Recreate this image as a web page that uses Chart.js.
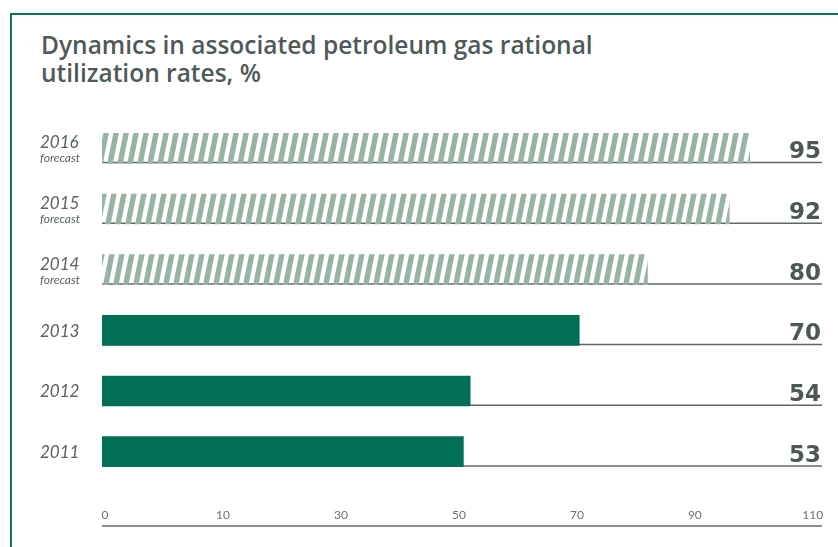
<!DOCTYPE html>
<html>
<head>
<meta charset="utf-8">
<script src="https://cdn.jsdelivr.net/npm/chart.js@4/dist/chart.umd.min.js"></script>
<style>
  html, body { margin: 0; padding: 0; background: #ffffff; }
  #wrap { position: relative; width: 838px; height: 547px; overflow: hidden; background: #fff; }
  #frame { position: absolute; left: 10px; top: 13px; right: -10px; bottom: -10px;
           border-top: 2.5px solid #0d7659; border-left: 2.5px solid #0d7659; }
  #title { position: absolute; left: 41px; top: 31px; font-family: "Open Sans", Lato, sans-serif;
           font-weight: 600; font-size: 24.5px; line-height: 28px; color: #4f5a58; white-space: nowrap; }
  canvas { position: absolute; left: 0; top: 0; }
</style>
</head>
<body>
<div id="wrap">
  <div id="frame"></div>
  <div id="title">Dynamics in associated petroleum gas rational<br>utilization rates, %</div>
  <canvas id="c" width="838" height="547"></canvas>
</div>
<script>
// ---- data ----
const categories = ['2016', '2015', '2014', '2013', '2012', '2011'];
const subLabels = ['forecast', 'forecast', 'forecast', '', '', ''];
const values = [95, 92, 80, 70, 54, 53];
const isForecast = [true, true, true, false, false, false];
const tickLabels = ['0', '10', '30', '50', '70', '90', '110'];

// ---- styles ----
const GREEN = '#006f55';
const HATCH = '#98b2a4';
const TEXT = '#4d5856';

function makeHatch() {
  const w = 10, h = 50, sw = 5.5;
  const c = document.createElement('canvas');
  c.width = w; c.height = h;
  const g = c.getContext('2d');
  g.fillStyle = HATCH;
  for (let k = -2; k <= 1; k++) {
    const x0 = k * w;
    g.beginPath();
    g.moveTo(x0, h);
    g.lineTo(x0 + sw, h);
    g.lineTo(x0 + sw + w, 0);
    g.lineTo(x0 + w, 0);
    g.closePath();
    g.fill();
  }
  return document.getElementById('c').getContext('2d').createPattern(c, 'repeat');
}
const hatch = makeHatch();

const decor = {
  id: 'decor',
  beforeDatasetsDraw(chart) {
    const ctx = chart.ctx;
    const meta = chart.getDatasetMeta(0);
    const xs = chart.scales.x;
    const right = chart.chartArea.right;
    ctx.save();
    meta.data.forEach((bar) => {
      const bottom = bar.y + bar.height / 2;
      ctx.strokeStyle = '#5f6866';
      ctx.lineWidth = 1.5;
      ctx.beginPath();
      ctx.moveTo(xs.getPixelForValue(0), bottom - 0.75);
      ctx.lineTo(right, bottom - 0.75);
      ctx.stroke();
    });
    // axis line
    const axisY = chart.chartArea.bottom + 44;
    ctx.strokeStyle = '#5f6866';
    ctx.lineWidth = 1.5;
    ctx.beginPath();
    ctx.moveTo(xs.getPixelForValue(0), axisY);
    ctx.lineTo(right, axisY);
    ctx.stroke();
    ctx.restore();
  },
  afterDatasetsDraw(chart) {
    const ctx = chart.ctx;
    const meta = chart.getDatasetMeta(0);
    const right = chart.chartArea.right;
    ctx.save();
    meta.data.forEach((bar, i) => {
      const bottom = bar.y + bar.height / 2;
      // value label
      ctx.fillStyle = TEXT;
      ctx.font = 'bold 23px "DejaVu Sans", sans-serif';
      ctx.textAlign = 'right';
      ctx.textBaseline = 'alphabetic';
      ctx.fillText(String(values[i]), right - 1, bottom - 5);
      // category label
      ctx.textAlign = 'left';
      ctx.fillStyle = '#586260';
      if (subLabels[i]) {
        ctx.font = 'italic 17px Lato, "Open Sans", sans-serif';
        ctx.textBaseline = 'alphabetic';
        ctx.fillText(categories[i], 40, bar.y);
        ctx.font = 'italic 12px Lato, "Open Sans", sans-serif';
        ctx.fillText(subLabels[i], 40, bar.y + 14);
      } else {
        ctx.font = 'italic 17px Lato, "Open Sans", sans-serif';
        ctx.textBaseline = 'middle';
        ctx.fillText(categories[i], 40, bar.y + 1);
      }
    });
    ctx.restore();
  }
};

new Chart(document.getElementById('c'), {
  type: 'bar',
  data: {
    labels: categories,
    datasets: [{
      data: values,
      backgroundColor: isForecast.map(f => f ? hatch : GREEN),
      borderWidth: 0,
      barThickness: 30
    }]
  },
  options: {
    indexAxis: 'y',
    responsive: false,
    animation: false,
    events: [],
    layout: { padding: { left: 102, right: 16, top: 118, bottom: 21 } },
    plugins: { legend: { display: false }, tooltip: { enabled: false }, title: { display: false } },
    scales: {
      y: { display: false },
      x: {
        min: 0,
        max: 105.6,
        grid: { display: false, drawTicks: false },
        border: { display: false },
        afterBuildTicks(scale) {
          const start = 0.45, step = 17.3;
          scale.ticks = tickLabels.map((t, k) => ({ value: start + step * k }));
        },
        afterFit(scale) { scale.height = 44; scale.paddingLeft = 0; scale.paddingRight = 0; },
        ticks: {
          autoSkip: false,
          maxRotation: 0,
          padding: 26,
          color: '#6a7371',
          font: { family: 'Lato, "Open Sans", sans-serif', size: 12 },
          callback(value, index) { return tickLabels[index]; }
        }
      }
    }
  },
  plugins: [decor]
});
</script>
</body>
</html>
